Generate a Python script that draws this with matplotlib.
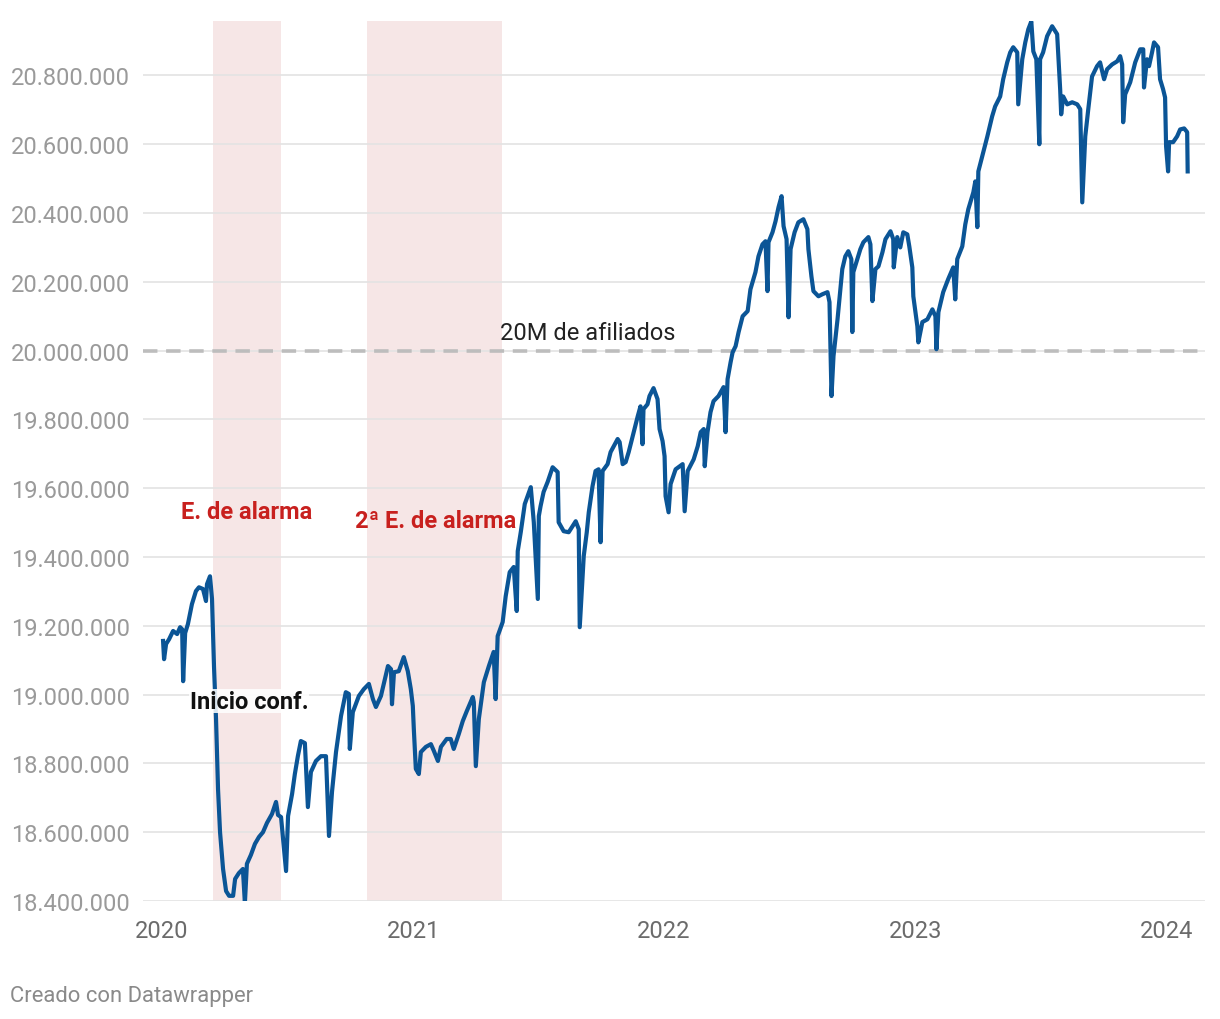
import matplotlib
matplotlib.use("Agg")
import matplotlib.pyplot as plt
import matplotlib.ticker as mticker

plt.rcParams['font.family'] = ['Roboto', 'DejaVu Sans']

# Afiliados a la Seguridad Social (miles), fecha en años decimales
years = [
    2020.004, 2020.008, 2020.016, 2020.028, 2020.044, 2020.060, 2020.072, 2020.080, 2020.084, 2020.092,
    2020.103, 2020.119, 2020.135, 2020.147, 2020.163, 2020.175, 2020.179, 2020.191, 2020.199, 2020.207,
    2020.215, 2020.223, 2020.231, 2020.243, 2020.255, 2020.267, 2020.283, 2020.291, 2020.306, 2020.322,
    2020.330, 2020.338, 2020.354, 2020.370, 2020.386, 2020.402, 2020.418, 2020.438, 2020.454, 2020.462,
    2020.474, 2020.494, 2020.502, 2020.518, 2020.529, 2020.541, 2020.553, 2020.569, 2020.581, 2020.593,
    2020.613, 2020.633, 2020.653, 2020.665, 2020.677, 2020.693, 2020.713, 2020.732, 2020.744, 2020.748,
    2020.760, 2020.784, 2020.804, 2020.824, 2020.840, 2020.852, 2020.872, 2020.888, 2020.900, 2020.912,
    2020.916, 2020.924, 2020.943, 2020.963, 2020.979, 2020.991, 2020.999, 2021.003, 2021.011, 2021.023,
    2021.031, 2021.051, 2021.071, 2021.083, 2021.099, 2021.111, 2021.134, 2021.150, 2021.162, 2021.182,
    2021.198, 2021.214, 2021.238, 2021.242, 2021.250, 2021.262, 2021.282, 2021.302, 2021.321, 2021.329,
    2021.337, 2021.357, 2021.369, 2021.385, 2021.401, 2021.413, 2021.417, 2021.429, 2021.445, 2021.469,
    2021.481, 2021.497, 2021.501, 2021.508, 2021.520, 2021.536, 2021.556, 2021.576, 2021.580, 2021.600,
    2021.620, 2021.636, 2021.648, 2021.660, 2021.664, 2021.680, 2021.692, 2021.700, 2021.715, 2021.727,
    2021.739, 2021.747, 2021.755, 2021.775, 2021.787, 2021.815, 2021.823, 2021.835, 2021.847, 2021.859,
    2021.875, 2021.895, 2021.906, 2021.914, 2021.918, 2021.934, 2021.942, 2021.958, 2021.974, 2021.982,
    2021.994, 2022.002, 2022.006, 2022.018, 2022.026, 2022.046, 2022.074, 2022.082, 2022.094, 2022.118,
    2022.134, 2022.146, 2022.158, 2022.162, 2022.173, 2022.185, 2022.197, 2022.217, 2022.237, 2022.245,
    2022.253, 2022.265, 2022.273, 2022.285, 2022.297, 2022.313, 2022.333, 2022.344, 2022.364, 2022.376,
    2022.392, 2022.404, 2022.412, 2022.416, 2022.432, 2022.444, 2022.456, 2022.468, 2022.476, 2022.488,
    2022.496, 2022.504, 2022.520, 2022.535, 2022.555, 2022.571, 2022.575, 2022.587, 2022.595, 2022.615,
    2022.631, 2022.651, 2022.659, 2022.667, 2022.675, 2022.691, 2022.710, 2022.722, 2022.734, 2022.746,
    2022.750, 2022.754, 2022.770, 2022.782, 2022.794, 2022.814, 2022.822, 2022.830, 2022.842, 2022.854,
    2022.870, 2022.882, 2022.902, 2022.913, 2022.915, 2022.929, 2022.941, 2022.953, 2022.969, 2022.977,
    2022.989, 2022.993, 2023.009, 2023.013, 2023.029, 2023.049, 2023.069, 2023.081, 2023.085, 2023.093,
    2023.112, 2023.132, 2023.152, 2023.160, 2023.168, 2023.188, 2023.200, 2023.212, 2023.232, 2023.240,
    2023.248, 2023.252, 2023.272, 2023.288, 2023.307, 2023.319, 2023.339, 2023.351, 2023.367, 2023.379,
    2023.391, 2023.407, 2023.411, 2023.427, 2023.439, 2023.451, 2023.463, 2023.471, 2023.483, 2023.495,
    2023.498, 2023.510, 2023.526, 2023.546, 2023.566, 2023.570, 2023.578, 2023.582, 2023.590, 2023.606,
    2023.626, 2023.646, 2023.658, 2023.666, 2023.678, 2023.690, 2023.705, 2023.725, 2023.737, 2023.753,
    2023.765, 2023.785, 2023.805, 2023.817, 2023.825, 2023.829, 2023.837, 2023.857, 2023.877, 2023.897,
    2023.909, 2023.912, 2023.924, 2023.932, 2023.944, 2023.952, 2023.968, 2023.976, 2023.988, 2023.996,
    2024.000, 2024.008, 2024.012, 2024.028, 2024.044, 2024.056, 2024.072, 2024.084, 2024.086,
]
afiliados = [
    19156, 19103, 19147, 19161, 19185, 19176, 19196, 19190, 19039, 19179,
    19205, 19263, 19301, 19312, 19307, 19272, 19321, 19344, 19278, 19080,
    18929, 18725, 18600, 18493, 18429, 18415, 18415, 18464, 18481, 18493,
    18394, 18508, 18534, 18566, 18586, 18600, 18627, 18653, 18688, 18650,
    18644, 18487, 18647, 18711, 18769, 18821, 18865, 18859, 18673, 18775,
    18807, 18821, 18821, 18589, 18717, 18833, 18938, 19007, 19002, 18842,
    18949, 18996, 19016, 19031, 18987, 18964, 18996, 19045, 19083, 19074,
    18972, 19065, 19068, 19109, 19068, 19016, 18967, 18900, 18784, 18769,
    18833, 18848, 18856, 18836, 18807, 18848, 18871, 18871, 18842, 18885,
    18923, 18952, 18993, 18978, 18792, 18929, 19036, 19083, 19124, 18987,
    19170, 19211, 19286, 19356, 19371, 19243, 19417, 19472, 19554, 19603,
    19501, 19278, 19519, 19548, 19589, 19618, 19661, 19647, 19501, 19475,
    19472, 19490, 19504, 19481, 19196, 19403, 19472, 19530, 19606, 19650,
    19655, 19443, 19650, 19670, 19705, 19743, 19734, 19670, 19676, 19705,
    19751, 19809, 19838, 19728, 19830, 19844, 19868, 19891, 19859, 19772,
    19737, 19693, 19577, 19530, 19612, 19655, 19670, 19533, 19650, 19684,
    19722, 19763, 19772, 19664, 19763, 19821, 19853, 19868, 19894, 19763,
    19917, 19966, 19995, 20013, 20054, 20100, 20115, 20178, 20228, 20274,
    20309, 20318, 20173, 20315, 20344, 20376, 20417, 20449, 20362, 20324,
    20097, 20295, 20344, 20373, 20382, 20353, 20295, 20216, 20173, 20158,
    20164, 20170, 20141, 19868, 19984, 20091, 20237, 20274, 20289, 20266,
    20054, 20228, 20266, 20295, 20315, 20330, 20309, 20144, 20237, 20245,
    20286, 20324, 20347, 20324, 20242, 20330, 20300, 20344, 20338, 20303,
    20242, 20158, 20071, 20024, 20083, 20091, 20120, 20100, 20004, 20112,
    20170, 20208, 20242, 20149, 20266, 20303, 20367, 20411, 20460, 20492,
    20359, 20521, 20577, 20623, 20681, 20710, 20739, 20789, 20838, 20867,
    20882, 20867, 20716, 20847, 20896, 20934, 20957, 20870, 20847, 20600,
    20847, 20867, 20914, 20943, 20920, 20867, 20760, 20687, 20739, 20716,
    20722, 20716, 20702, 20431, 20623, 20702, 20797, 20827, 20838, 20789,
    20818, 20832, 20841, 20856, 20832, 20664, 20745, 20780, 20838, 20876,
    20876, 20765, 20847, 20827, 20867, 20896, 20882, 20789, 20760, 20736,
    20594, 20521, 20606, 20606, 20623, 20643, 20646, 20635, 20521,
]

# Estados de alarma (inicio, fin)
alarma_inicio = [2020.203, 2020.816]
alarma_fin = [2020.473, 2021.355]
alarma_textos = ['E. de alarma', '2ª E. de alarma']

y_ticks = [18400000 + 200000 * i for i in range(13)]
x_ticks = [2020, 2021, 2022, 2023, 2024]

fig = plt.figure(figsize=(12.2, 10.2), dpi=100)
ax = fig.add_axes([0.1172, 0.1157, 0.8705, 0.8623])

for a, b in zip(alarma_inicio, alarma_fin):
    ax.axvspan(a, b, color='#f6e6e6', lw=0, zorder=0)

for t in y_ticks:
    ax.axhline(t, color='#e3e3e3', lw=1.2, zorder=1)

ax.axhline(20000000, color='#bdbdbd', lw=2.6, ls=(0, (4, 2.4)), zorder=2)
ax.text(2021.345, 20018000, '20M de afiliados', fontsize=17, color='#222222',
        ha='left', va='bottom', zorder=5)

ax.plot(years, [v * 1000 for v in afiliados], color='#0b5596', lw=3.0,
        solid_joinstyle='round', zorder=4)

ax.text(2020.335, 19533000, alarma_textos[0], fontsize=17, color='#c8201e',
        fontweight='bold', ha='center', va='center', zorder=5)
ax.text(2021.09, 19507000, alarma_textos[1], fontsize=17, color='#c8201e',
        fontweight='bold', ha='center', va='center', zorder=5)
ax.text(2020.347, 18981000, 'Inicio conf.', fontsize=17, color='#111111',
        fontweight='bold', ha='center', va='center', zorder=5,
        bbox=dict(facecolor='white', edgecolor='none', pad=0.5, alpha=0.85))

ax.set_xlim(2019.924, 2024.155)
ax.set_ylim(18400000, 20957000)
ax.set_xticks(x_ticks)
ax.set_xticklabels([str(x) for x in x_ticks])
ax.set_yticks(y_ticks)
ax.yaxis.set_major_formatter(mticker.FuncFormatter(lambda v, p: f'{int(v):,}'.replace(',', '.')))
ax.tick_params(axis='y', length=0, pad=95, labelsize=17, labelcolor='#9a9a9a')
for lab in ax.get_yticklabels():
    lab.set_horizontalalignment('left')
ax.tick_params(axis='x', length=0, pad=13, labelsize=17, labelcolor='#6b6b6b')
for s in ax.spines.values():
    s.set_visible(False)

fig.text(10 / 1220, 1 - 997 / 1020, 'Creado con Datawrapper', fontsize=15.8,
         color='#8a8a8a', ha='left', va='center')

fig.savefig('out.png', dpi=100)
